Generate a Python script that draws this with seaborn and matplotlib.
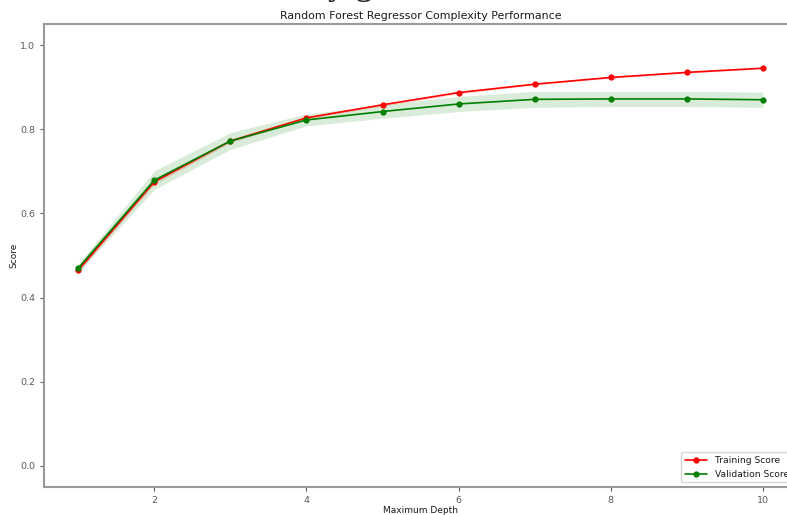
import matplotlib
matplotlib.use("Agg")

import numpy as np
import pandas as pd
import matplotlib.pyplot as plt
import seaborn as sns

# =====================
# DATA
# =====================
max_depth = [1, 2, 3, 4, 5, 6, 7, 8, 9, 10]
train_mean = [0.465, 0.675, 0.772, 0.827, 0.858, 0.887, 0.907, 0.923, 0.935, 0.945]
train_std = [0.005, 0.006, 0.004, 0.003, 0.003, 0.003, 0.002, 0.002, 0.002, 0.002]
valid_mean = [0.470, 0.679, 0.772, 0.822, 0.842, 0.860, 0.871, 0.872, 0.872, 0.870]
valid_std = [0.010, 0.022, 0.020, 0.014, 0.016, 0.018, 0.019, 0.018, 0.018, 0.018]

df = pd.DataFrame({
    "depth": max_depth,
    "train": train_mean,
    "valid": valid_mean,
})

# =====================
# STYLE
# =====================
sns.set_style("ticks", {
    "axes.edgecolor": "0.6",
    "xtick.color": "0.35",
    "ytick.color": "0.35",
    "text.color": "0.1",
    "axes.labelcolor": "0.1",
})
plt.rcParams["font.family"] = ["DejaVu Sans"]
plt.rcParams["axes.linewidth"] = 1.5
plt.rcParams["xtick.major.size"] = 3
plt.rcParams["ytick.major.size"] = 3
plt.rcParams["xtick.labelsize"] = 6.8
plt.rcParams["ytick.labelsize"] = 6.8

fig = plt.figure(figsize=(7.87, 5.15), dpi=100)
ax = fig.add_axes([0.0559, 0.0544, 0.957, 0.899])

# =====================
# CURVES
# =====================
sns.lineplot(data=df, x="depth", y="train", ax=ax, color="r", marker="o",
             markersize=4.5, markeredgewidth=0, linewidth=1.2,
             label="Training Score")
sns.lineplot(data=df, x="depth", y="valid", ax=ax, color="g", marker="o",
             markersize=4.5, markeredgewidth=0, linewidth=1.2,
             label="Validation Score")

tm, ts = np.array(train_mean), np.array(train_std)
vm, vs = np.array(valid_mean), np.array(valid_std)
ax.fill_between(max_depth, tm - ts, tm + ts, alpha=0.15, color="r", linewidth=0)
ax.fill_between(max_depth, vm - vs, vm + vs, alpha=0.15, color="g", linewidth=0)

ax.set_title("Random Forest Regressor Complexity Performance", fontsize=7.9, pad=3.5)
ax.set_xlabel("Maximum Depth", fontsize=6.5, labelpad=0.5)
ax.set_ylabel("Score", fontsize=6.5, labelpad=1)
ax.set_xticks([2, 4, 6, 8, 10])
ax.set_yticks([0.0, 0.2, 0.4, 0.6, 0.8, 1.0])
ax.set_xlim(0.55, 10.45)
ax.set_ylim(-0.05, 1.05)

ax.legend(loc="lower right", fontsize=6.6, frameon=True, borderaxespad=0.5,
          handlelength=2.5)

# heading above the figure, mostly cut off in the reference
fig.text(0.445, 1.011, "y g", family="Liberation Serif", fontsize=26,
         ha="center", va="baseline", color="0.1")

fig.savefig("out.png", dpi=100)
